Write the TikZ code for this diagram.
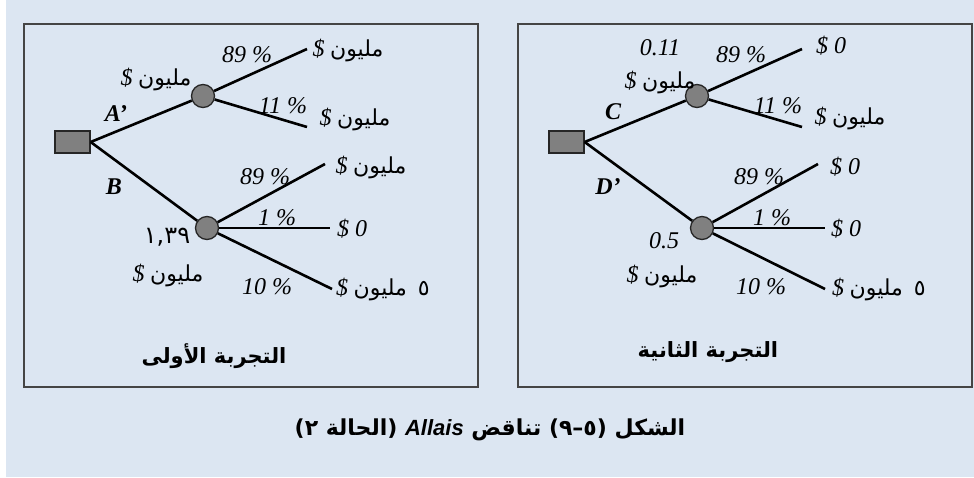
\documentclass[tikz,border=0pt]{standalone}
\usepackage{fontspec}
\setmainfont{Liberation Serif}
\newfontfamily\arfont[Script=Arabic]{DejaVu Sans}
\newfontfamily\sansfont{Liberation Sans}
\TeXXeTstate=1
\definecolor{bgblue}{HTML}{DCE6F2}
\definecolor{boxline}{HTML}{454545}
\definecolor{nodegray}{HTML}{808080}
\tikzset{
  decision/.style={draw=black!85, line width=1.3pt, fill=nodegray, minimum width=35pt, minimum height=22pt, inner sep=0pt},
  chance/.style={circle, draw=black!85, line width=1.3pt, fill=nodegray, minimum size=23pt, inner sep=0pt},
  branch/.style={line width=2.6pt, black},
  pct/.style={font=\fontsize{24}{24}\selectfont\itshape, inner sep=0pt},
  money/.style={font=\fontsize{22}{22}\selectfont, inner sep=0pt},
  altlab/.style={font=\fontsize{24}{24}\selectfont\bfseries\itshape, inner sep=0pt},
  title/.style={font=\fontsize{21}{21}\selectfont\arfont\bfseries, inner sep=0pt},
  captionstyle/.style={font=\fontsize{22}{22}\selectfont\arfont\bfseries, inner sep=0pt},
  panel/.style={draw=boxline, line width=2.2pt}
}
\newcommand{\mlabel}{{\fontsize{24}{24}\selectfont\textit{\$}}~{\arfont مليون}}
\begin{document}
\begin{tikzpicture}[x=1pt,y=-1pt]
\useasboundingbox (0,0) rectangle (974,477);
\fill[white] (0,0) rectangle (974,477);
\fill[bgblue] (6,0) rectangle (974,477);
% panels
\draw[panel] (24,24) rectangle (478,387);
\draw[panel] (518,24) rectangle (972,387);

% ---------- left tree ----------
\node[decision] (sqL) at (72.5,142) {};
\node[chance] (cLa) at (203,96) {};
\node[chance] (cLb) at (207,228) {};
\coordinate (eL1) at (307,49);
\coordinate (eL2) at (307,127);
\coordinate (eL3) at (325,164);
\coordinate (eL4) at (330,228);
\coordinate (eL5) at (332,289);
\draw[branch] (sqL.east) -- (cLa);
\draw[branch] (sqL.east) -- (cLb);
\draw[branch] (cLa) -- (eL1);
\draw[branch] (cLa) -- (eL2);
\draw[branch] (cLb) -- (eL3);
\draw[branch] (cLb) -- (eL4);
\draw[branch] (cLb) -- (eL5);

\node[altlab] (lA) at (116,114) {A’};
\node[altlab] (lB) at (114,187) {B};
\node[money] (mLa) at (156,79) {\mlabel};
\node[pct] (pL1) at (247,55) {89 \%};
\node[money] (mL1) at (348,50) {\mlabel};
\node[pct] (pL2) at (283,106) {11 \%};
\node[money] (mL2) at (355,119) {\mlabel};
\node[pct] (pL3) at (265,177) {89 \%};
\node[money] (mL3) at (371,167) {\mlabel};
\node[pct] (pL4) at (277,218) {1 \%};
\node[pct] (mL4) at (352,229) {\$ 0};
\node[pct] (pL5) at (267,287) {10 \%};
\node[money] (mL5) at (383,289) {\mlabel~~{\arfont ٥}};
\node[money, font=\fontsize{24}{24}\selectfont] (vLb) at (167,237) {\arfont ١,٣٩};
\node[money] (vLb2) at (168,275) {\mlabel};
\node[title] (tL) at (214,356) {\beginR التجربة الأولى\endR};

% ---------- right tree ----------
\node[decision] (sqR) at (566.5,142) {};
\node[chance] (cRa) at (697,96) {};
\node[chance] (cRb) at (702,228) {};
\coordinate (eR1) at (802,49);
\coordinate (eR2) at (802,127);
\coordinate (eR3) at (818,164);
\coordinate (eR4) at (825,228);
\coordinate (eR5) at (825,289);
\draw[branch] (sqR.east) -- (cRa);
\draw[branch] (sqR.east) -- (cRb);
\draw[branch] (cRa) -- (eR1);
\draw[branch] (cRa) -- (eR2);
\draw[branch] (cRb) -- (eR3);
\draw[branch] (cRb) -- (eR4);
\draw[branch] (cRb) -- (eR5);

\node[altlab] (lC) at (613,112) {C};
\node[altlab] (lD) at (608,187) {D’};
\node[pct] (vRa) at (660,48) {0.11};
\node[money] (mRa) at (660,82) {\mlabel};
\node[pct] (pR1) at (741,55) {89 \%};
\node[pct] (mR1) at (831,46) {\$ 0};
\node[pct] (pR2) at (778,106) {11 \%};
\node[money] (mR2) at (850,118) {\mlabel};
\node[pct] (pR3) at (759,177) {89 \%};
\node[pct] (mR3) at (845,167) {\$ 0};
\node[pct] (pR4) at (772,218) {1 \%};
\node[pct] (mR4) at (846,229) {\$ 0};
\node[pct] (pR5) at (761,287) {10 \%};
\node[money] (mR5) at (879,289) {\mlabel~~{\arfont ٥}};
\node[pct] (vRb) at (664,241) {0.5};
\node[money] (vRb2) at (662,276) {\mlabel};
\node[title] (tR) at (708,352) {\beginR التجربة الثانية\endR};

% caption
\node[captionstyle] (cap) at (490,430) {\beginR الشكل (٥–٩) تناقض \beginL{\sansfont\bfseries\itshape Allais}\endL{} (الحالة ٢)\endR};
\end{tikzpicture}
\end{document}
